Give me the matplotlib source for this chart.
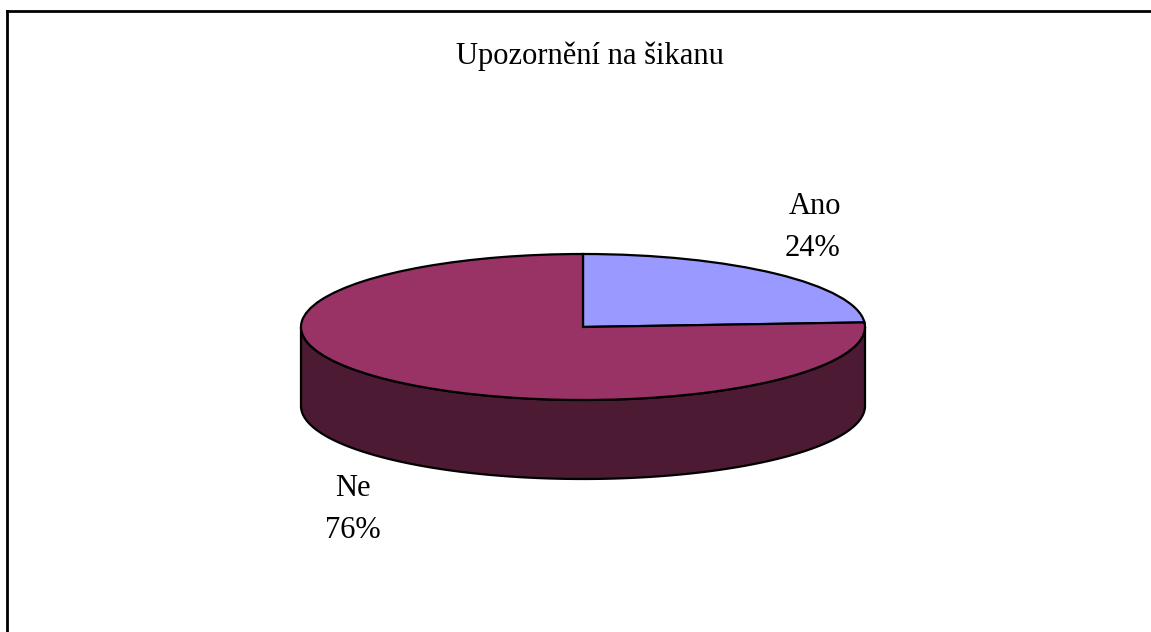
import numpy as np
import matplotlib
matplotlib.use("Agg")
import matplotlib.pyplot as plt

# === DATA ===
labels = ["Ano", "Ne"]
values = [24, 76]
colors = ["#9999ff", "#993366"]
side_color = "#4d1a33"
title = "Upozornění na šikanu"

# === LAYOUT (pixels) ===
W, H = 1151, 632
cx, cy = 583, 327
rx, ry = 282, 73
depth = 79

plt.rcParams["font.family"] = "Liberation Serif"

fig = plt.figure(figsize=(W / 100, H / 100), dpi=100)
ax = fig.add_axes([0, 0, 1, 1])

# side wall, round the front of the pie
d = depth / ry
theta = np.radians(np.linspace(-180, 0, 200))
xs = np.cos(theta)
ys = np.sin(theta)
ax.fill(np.r_[xs, xs[::-1]], np.r_[ys - d, ys[::-1]], fc=side_color, ec="black", lw=1.6, zorder=1)

ax.pie(values, colors=colors, startangle=90, counterclock=False, radius=1, center=(0, 0),
       frame=False, wedgeprops=dict(edgecolor="black", linewidth=1.6, zorder=2))
# one data unit is rx pixels across and ry pixels down, the pie turns flat
ax.set_aspect("auto")
ax.set_xlim(-cx / rx, (W - cx) / rx)
ax.set_ylim(-(H - cy) / ry, cy / ry)
ax.axis("off")

# frame of the chart, cut off on the right and at the bottom
fig.add_artist(plt.Line2D([7.5 / W, 7.5 / W], [0, 1 - 11 / H], color="black", lw=2))
fig.add_artist(plt.Line2D([6.5 / W, 1], [1 - 11 / H, 1 - 11 / H], color="black", lw=2))

fs = 22
def px_text(x, y, s):
    fig.text(x / W, 1 - y / H, s, ha="center", va="center", fontsize=fs, color="black")

px_text(590, 56, title)
px_text(815, 206, labels[0])
px_text(813, 249, f"{values[0]}%")
px_text(353, 488, labels[1])
px_text(353, 530, f"{values[1]}%")

fig.savefig("out.png", dpi=100)
